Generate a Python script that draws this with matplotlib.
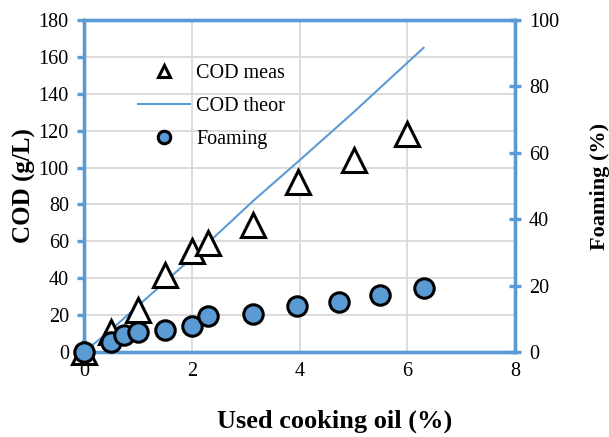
import matplotlib.pyplot as plt
from matplotlib.lines import Line2D

plt.rcParams['font.family'] = ['Liberation Serif', 'DejaVu Serif']

# Dados medidos
oleo_meas = [0, 0.5, 1.0, 1.5, 2.0, 2.3, 3.14, 3.97, 5.0, 6.0]
cod_meas = [0, 11, 23, 42, 55, 59, 69, 92, 104, 118]

oleo_theor = [0, 0.5, 1.0, 2.0, 3.14, 4.0, 5.0, 6.3]
cod_theor = [0, 12, 25, 51, 82, 104, 130, 165]

oleo_foam = [0, 0.5, 0.74, 1.0, 1.5, 2.0, 2.3, 3.14, 3.95, 4.73, 5.5, 6.3]
foaming = [0, 3.1, 5.1, 5.9, 6.6, 7.8, 10.8, 11.3, 13.9, 15.2, 17.2, 19.2]

azul = '#5B9BD5'

fig = plt.figure(figsize=(6.09, 4.37), dpi=100)
ax = fig.add_axes([0.138, 0.1945, 0.708, 0.7595])
ax2 = ax.twinx()

ax.plot(oleo_theor, cod_theor, color=azul, lw=1.5, zorder=3)
ax.plot(oleo_meas, cod_meas, ls='none', marker='^', ms=17, mfc='white',
        mec='black', mew=2.2, clip_on=False, zorder=4)
ax2.plot(oleo_foam, foaming, ls='none', marker='o', ms=14, mfc=azul,
         mec='black', mew=2.2, clip_on=False, zorder=5)

ax.set_xlim(0, 8)
ax.set_ylim(0, 180)
ax2.set_ylim(0, 100)
ax.set_xticks(range(0, 9, 2))
ax.set_yticks(range(0, 181, 20))
ax2.set_yticks(range(0, 101, 20))

ax.grid(True, color='#D9D9D9', lw=1.3)
ax.set_axisbelow(True)

for a in (ax, ax2):
    for s in a.spines.values():
        s.set_color(azul)
        s.set_linewidth(2.4)

ax.tick_params(axis='y', direction='out', length=5, width=2.4, color=azul,
               labelsize=14.5, pad=6)
ax.tick_params(axis='x', length=0, labelsize=14.5, pad=7)
ax2.tick_params(axis='y', direction='inout', length=8, width=2.4, color=azul,
                labelsize=14.5, pad=6)

ax.set_xlabel('Used cooking oil (%)', fontsize=19, fontweight='bold')
ax.xaxis.set_label_coords(0.582, -0.172, transform=ax.transAxes)
ax.set_ylabel('COD (g/L)', fontsize=18, fontweight='bold', labelpad=2)
ax2.set_ylabel('Foaming (%)', fontsize=16, fontweight='bold', labelpad=22)

handles = [
    Line2D([], [], ls='none', marker='^', ms=9, mfc='white', mec='black', mew=2.2),
    Line2D([], [], color=azul, lw=1.5),
    Line2D([], [], ls='none', marker='o', ms=9, mfc=azul, mec='black', mew=2.2),
]
fig.legend(handles, ['COD meas', 'COD theor', 'Foaming'], loc='upper left',
           bbox_to_anchor=(0.2266, 0.853), frameon=False, fontsize=14.5,
           handlelength=2.6, labelspacing=0.68, handletextpad=0.3,
           borderpad=0, borderaxespad=0)

fig.savefig('out.png', dpi=100)
